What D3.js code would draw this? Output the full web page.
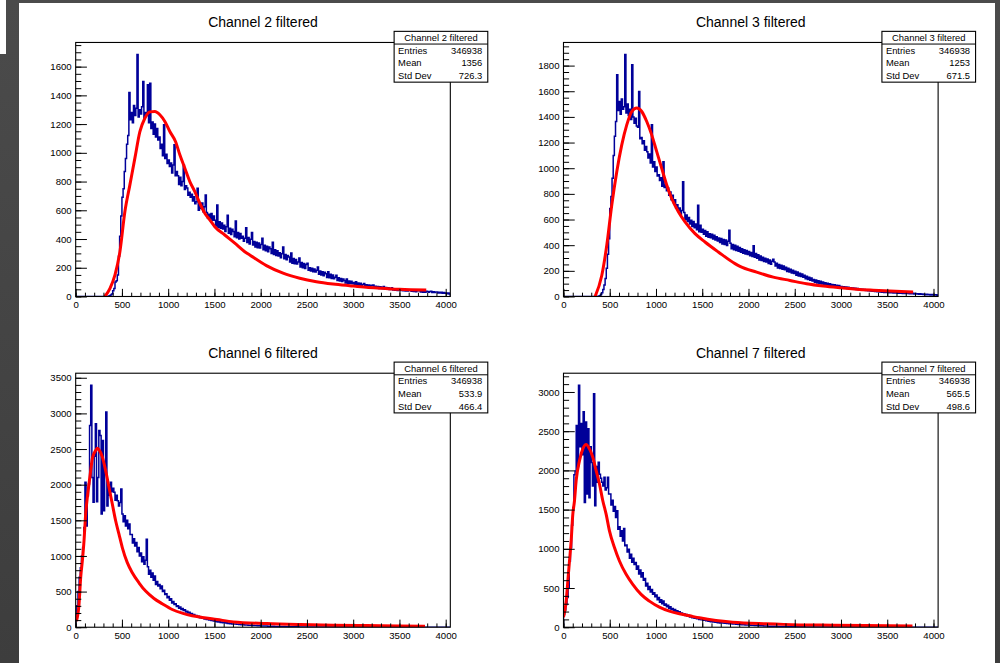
<!DOCTYPE html>
<html><head><meta charset="utf-8">
<script src="https://cdn.jsdelivr.net/npm/d3@7"></script>
<style>
html,body{margin:0;padding:0;background:#444;}
svg{display:block;}
text{font-family:"Liberation Sans",Arial,Helvetica,sans-serif;fill:#000;}
</style></head><body>
<svg id="c" width="1000" height="663"></svg>
<script>
// ---------------- data ----------------
const titles = ["Channel 2 filtered", "Channel 3 filtered", "Channel 6 filtered", "Channel 7 filtered"];
const binWidth = 12.5;
const xMax = 4050;
const xTicks = [0, 500, 1000, 1500, 2000, 2500, 3000, 3500, 4000];

// bin contents, 8 bins per 100 units
const ch2Start = 300;
const ch2Counts = [
  0,0,0,0,2,5,10,18,
  40,55,100,110,150,280,420,560,
  690,750,870,960,1060,1120,1420,1230,
  1280,1210,1330,1260,1310,1684,1250,1300,
  1270,1320,1497,1240,1280,1260,1474,1210,
  1485,1170,1215,1130,1200,1110,1170,1090,
  1110,1030,1060,980,1195,960,990,925,
  950,905,930,860,915,1056,840,870,
  840,780,830,770,800,916,745,770,
  755,705,725,690,712,665,695,645,
  660,754,600,640,612,650,590,625,
  707,585,545,572,540,578,530,560,
  530,490,637,482,520,475,512,470,
  495,452,485,565,440,475,432,468,
  452,415,525,408,445,400,438,405,
  420,385,405,478,375,410,365,398,
  445,358,382,345,378,340,372,338,
  362,405,325,356,318,350,312,345,
  332,300,378,292,325,285,318,282,
  305,270,298,345,262,292,255,285,
  275,240,302,232,265,228,258,226,
  240,268,205,236,200,230,195,222,
  232,182,200,178,196,172,192,170,
  182,205,155,178,150,172,145,168,
  158,132,172,130,154,126,150,124,
  134,148,112,130,108,126,104,122,
  112,94,122,92,108,90,106,88,
  98,82,102,80,94,78,92,76,
  84,90,70,82,68,80,66,78,
  74,80,62,72,58,70,56,68,
  64,54,70,52,62,50,60,48,
  56,60,46,54,44,53,42,51,
  50,41,52,40,48,39,47,38,
  44,46,36,43,34,42,33,41,
  40,42,32,39,30,38,29,37,
  35,29,34,36,28,33,27,32,
  31,25,30,24,29,23,28,22,
  25,19,24,18];

const ch3Start = 300;
const ch3Counts = [
  0,0,0,0,0,0,2,5,
  15,30,55,90,140,220,330,450,
  686,780,921,1100,1250,1364,1729,1450,
  1520,1420,1540,1460,1480,1886,1430,1500,
  1410,1460,1380,1807,1400,1350,1390,1330,
  1320,1599,1230,1240,1190,1215,1140,1170,
  1129,1080,1110,1040,1338,1010,1050,975,
  1010,940,950,905,925,860,1051,850,
  870,825,845,790,815,755,790,730,
  755,690,715,670,690,640,670,894,
  655,600,635,585,615,565,595,545,
  585,535,565,520,712,505,555,500,
  525,485,515,470,505,462,490,458,
  485,448,478,440,465,432,455,420,
  452,410,445,405,440,398,430,517,
  415,372,405,365,400,358,392,352,
  382,345,372,338,365,332,358,328,
  350,318,342,312,395,305,336,298,
  325,285,315,280,305,272,298,268,
  292,258,285,252,275,290,268,238,
  260,222,250,218,244,212,238,208,
  228,195,220,190,212,184,205,180,
  196,165,190,160,182,155,176,150,
  165,138,158,132,150,126,145,120,
  132,110,128,106,122,102,118,98,
  112,92,108,90,104,86,100,84,
  94,78,92,76,88,72,86,70,
  78,66,76,64,74,62,72,60,
  68,58,66,56,64,54,62,52,
  58,50,56,48,54,46,52,44,
  48,42,46,40,45,38,44,36,
  41,34,40,33,39,32,38,31,
  37,30,36,29,35,28,34,27,
  31,26,30,25,29,24,28,23,
  28,23,27,22,26,21,25,20,
  23,19,22,18,21,17,20,16,
  18,14,17,13,16,12,15,11,
  14,11,13,10];

const ch6Start = 0;
const ch6Counts = [
  180,300,500,700,836,1000,1118,1400,
  2033,1422,1845,2010,2831,3394,2100,1752,
  2400,2854,1760,2100,2760,2690,1588,2620,
  1635,2200,3019,1700,2000,1850,2033,1900,
  1950,1892,1780,1850,1776,1700,1750,1939,
  1587,1480,1563,1420,1500,1380,1450,1300,
  1300,1180,1240,1141,1190,1060,1118,1000,
  1040,920,990,883,940,1235,850,742,
  800,700,760,660,718,601,640,580,
  600,540,577,500,520,460,470,413,
  430,380,400,340,360,319,330,290,
  300,265,285,250,262,235,245,215,
  225,200,210,178,192,170,178,155,
  165,145,155,132,142,125,132,115,
  122,108,116,100,106,94,100,86,
  90,78,84,72,78,68,72,62,
  66,58,62,54,58,50,54,46,
  47,46,44,42,41,40,38,36,
  35,34,32,31,30,29,28,27,
  28,26,25,24,23,22,21,20,
  19,18,18,17,16,16,15,15,
  14,14,13,13,12,12,11,11,
  10,10,9,9,9,8,8,8,
  7,7,7,7,6,6,6,6,
  6,5,5,5,5,5,5,4,
  4,4,4,4,4,4,3,3,
  3,3,3,3,3,3,3,3,
  3,3,3,2,2,2,2,2,
  2,2,2,2,2,2,2,2,
  2,2,2,2,2,2,2,2,
  2,2,2,2,1,1,1,1];

const ch7Start = 0;
const ch7Counts = [
  163,220,291,380,500,845,1015,1300,
  1527,1946,1993,2573,2050,3085,2300,2598,
  2200,2747,1592,2616,1700,2530,1650,2300,
  2100,1800,2978,1549,2050,1850,2104,1950,
  1900,1850,1800,1912,1750,1780,1912,1700,
  1700,1560,1620,1480,1540,1400,1485,1250,
  1280,1160,1229,1100,1260,1040,1050,960,
  995,880,930,830,880,800,824,740,
  780,680,730,640,696,600,620,525,
  560,480,520,450,480,420,440,390,
  410,350,380,320,350,300,333,280,
  295,260,280,240,262,225,240,205,
  225,195,210,182,198,170,182,160,
  172,150,162,140,154,130,142,122,
  134,116,124,108,116,100,108,94,
  102,88,96,82,90,76,84,70,
  78,68,74,62,70,58,66,54,
  56,55,53,51,50,48,47,46,
  45,44,42,41,40,38,37,36,
  35,34,33,32,31,30,29,28,
  30,27,26,25,24,23,22,21,
  20,20,19,18,18,17,16,16,
  15,14,14,13,13,12,12,11,
  11,10,10,10,9,9,9,8,
  8,8,7,7,7,7,6,6,
  6,6,6,5,5,5,5,5,
  5,4,4,4,4,4,4,4,
  4,3,3,3,3,3,3,3,
  3,3,3,3,3,3,2,2,
  2,2,2,2,2,2,2,2,
  2,2,2,2,2,2,2,2,
  2,2,1,1,1,1,1,1];

// fitted curves (red)
const ch2FitX = [316,371,425,478,532,586,640,694,748,802,856,910,964,1018,1079,1126,1180,1234,1288,1342,1396,1450,1504,1612,1720,1828,1882,2062,2242,2422,2602,2782,2962,3142,3322,3502,3790];
const ch2FitY = [0,57,150,312,591,777,963,1148,1241,1285,1288,1265,1218,1148,1079,986,893,800,730,649,580,533,486,428,371,312,289,215,162,127,103,87,75,64,57,50,45];
const ch3FitX = [342,414,468,522,576,630,684,738,792,846,900,954,1008,1062,1116,1170,1242,1314,1422,1530,1674,1854,1908,2088,2268,2448,2628,2808,2988,3168,3348,3528,3780];
const ch3FitY = [0,164,399,712,973,1182,1338,1442,1469,1442,1364,1260,1129,999,869,764,660,581,490,425,347,256,235,190,151,125,99,81,68,57,49,42,34];
const ch6FitX = [8,36,54,72,90,108,126,144,162,180,216,234,252,288,324,360,396,432,468,504,558,612,684,756,847,936,1044,1152,1260,1368,1527,1706,2066,2426,2786,3146,3506,3776];
const ch6FitY = [85,319,695,930,1212,1588,1822,2010,2197,2366,2480,2510,2490,2390,2197,1963,1728,1494,1306,1118,906,765,624,507,404,330,249,197,160,137,108,75,52,38,28,23,19,14];
const ch7FitX = [0,29,47,65,83,101,119,137,173,209,245,281,317,353,389,425,461,497,551,605,677,749,839,929,1037,1145,1253,1361,1469,1649,1829,2189,2549,2909,3269,3773];
const ch7FitY = [128,333,589,845,1101,1442,1613,1869,2125,2274,2330,2274,2168,1997,1826,1613,1442,1229,1016,845,675,547,419,333,256,205,171,146,120,86,64,43,30,26,21,17];

const statLabels = ["Entries", "Mean", "Std Dev"];
const ch2Stats = ["346938", "1356", "726.3"];
const ch3Stats = ["346938", "1253", "671.5"];
const ch6Stats = ["346938", "533.9", "466.4"];
const ch7Stats = ["346938", "565.5", "498.6"];

const ch2YTicks = [0,200,400,600,800,1000,1200,1400,1600];
const ch3YTicks = [0,200,400,600,800,1000,1200,1400,1600,1800];
const ch6YTicks = [0,500,1000,1500,2000,2500,3000,3500];
const ch7YTicks = [0,500,1000,1500,2000,2500,3000];

const panels = [
  {title: titles[0], start: ch2Start, counts: ch2Counts, fx: ch2FitX, fy: ch2FitY, stats: ch2Stats, yTicks: ch2YTicks, yMinorStep: 50},
  {title: titles[1], start: ch3Start, counts: ch3Counts, fx: ch3FitX, fy: ch3FitY, stats: ch3Stats, yTicks: ch3YTicks, yMinorStep: 50},
  {title: titles[2], start: ch6Start, counts: ch6Counts, fx: ch6FitX, fy: ch6FitY, stats: ch6Stats, yTicks: ch6YTicks, yMinorStep: 100},
  {title: titles[3], start: ch7Start, counts: ch7Counts, fx: ch7FitX, fy: ch7FitY, stats: ch7Stats, yTicks: ch7YTicks, yMinorStep: 100}
];

// ---------------- layout ----------------
const svg = d3.select("#c");
const defs = svg.append("defs");
const grad = defs.append("linearGradient").attr("id","bg").attr("x1",0).attr("y1",0).attr("x2",0).attr("y2",1);
grad.append("stop").attr("offset","0%").attr("stop-color","#4b4b4b");
grad.append("stop").attr("offset","100%").attr("stop-color","#3d3d3d");
svg.append("rect").attr("width",1000).attr("height",663).attr("fill","url(#bg)");
svg.append("rect").attr("x",0).attr("y",0).attr("width",6).attr("height",54).attr("fill","#ffffff");

const C = {x: 19.1, y: 4.1, w: 975.6, h: 661.5};
svg.append("rect").attr("x",19).attr("y",3).attr("width",976).attr("height",660).attr("fill","#ffffff");

const fontTick = 9.6;

panels.forEach((p, i) => {
  const col = i % 2, row = Math.floor(i / 2);
  const px = C.x + (0.01 + 0.5 * col) * C.w;
  const py = C.y + (0.01 + 0.5 * row) * C.h;
  const pw = 0.48 * C.w, ph = 0.48 * C.h;
  const fx0 = px + 0.1 * pw, fx1 = px + 0.9 * pw;
  const fy0 = py + 0.1 * ph, fy1 = py + 0.9 * ph;

  const g = svg.append("g");
  const x = d3.scaleLinear().domain([0, xMax]).range([fx0, fx1]);
  const yMax = 1.05 * d3.max(p.counts);
  const y = d3.scaleLinear().domain([0, yMax]).range([fy1, fy0]);

  const clipId = "clip" + i;
  defs.append("clipPath").attr("id", clipId).append("rect")
    .attr("x", fx0).attr("y", fy0 - 1).attr("width", fx1 - fx0).attr("height", fy1 - fy0 + 1);

  // histogram step outline
  const pts = [[0, 0], [p.start, 0]];
  p.counts.forEach((c, k) => {
    const lo = p.start + k * binWidth;
    pts.push([lo, c], [lo + binWidth, c]);
  });
  const lastEdge = p.start + p.counts.length * binWidth;
  pts.push([lastEdge, 0], [xMax, 0]);
  const line = d3.line().x(d => x(d[0])).y(d => y(d[1]));
  g.append("path").attr("clip-path", `url(#${clipId})`)
    .attr("d", line(pts)).attr("fill", "none")
    .attr("stroke", "#000099").attr("stroke-width", 1.5).attr("stroke-linejoin", "miter");

  // fit curve
  const fitPts = p.fx.map((v, k) => [v, p.fy[k]]);
  g.append("path").attr("clip-path", `url(#${clipId})`)
    .attr("d", d3.line().x(d => x(d[0])).y(d => y(d[1])).curve(d3.curveMonotoneX)(fitPts))
    .attr("fill", "none").attr("stroke", "#ff0000").attr("stroke-width", 3)
    .attr("stroke-linejoin", "round");

  // axes
  const xLen = (fy1 - fy0) * 0.03, yLen = (fx1 - fx0) * 0.03;
  const xMinor = d3.range(0, xMax + 1, 100);
  const yMinor = d3.range(0, yMax + 0.001, p.yMinorStep);
  const style = sel => {
    sel.select(".domain").remove();
    sel.selectAll("line").attr("stroke", "#000").attr("stroke-width", 1);
    sel.selectAll("text").attr("font-size", fontTick).style("font-family", '"Liberation Sans",Arial,sans-serif').attr("fill", "#000");
  };
  g.append("g").attr("transform", `translate(0,${fy1})`)
    .call(d3.axisBottom(x).tickValues(xMinor).tickSize(-xLen / 2).tickFormat("")).call(style);
  g.append("g").attr("transform", `translate(0,${fy1})`)
    .call(d3.axisBottom(x).tickValues(xTicks).tickSize(-xLen).tickPadding(4.6).tickFormat(d3.format("d"))).call(style);
  g.append("g").attr("transform", `translate(${fx0},0)`)
    .call(d3.axisLeft(y).tickValues(yMinor).tickSize(-yLen / 2).tickFormat("")).call(style);
  g.append("g").attr("transform", `translate(${fx0},0)`)
    .call(d3.axisLeft(y).tickValues(p.yTicks).tickSize(-yLen).tickPadding(4).tickFormat(d3.format("d"))).call(style);

  // frame
  g.append("rect").attr("x", fx0).attr("y", fy0).attr("width", fx1 - fx0).attr("height", fy1 - fy0)
    .attr("fill", "none").attr("stroke", "#000").attr("stroke-width", 1.1);

  // title
  g.append("text").attr("x", px + pw / 2).attr("y", py + 16.4).attr("text-anchor", "middle")
    .attr("font-size", 14).attr("fill", "#111").text(p.title);

  // stats box
  const sx0 = px + 0.78 * pw, sx1 = px + 0.98 * pw;
  const sy0 = py + 0.065 * ph, sy1 = py + 0.225 * ph;
  const rh = (sy1 - sy0) / 4;
  g.append("rect").attr("x", sx0).attr("y", sy0).attr("width", sx1 - sx0).attr("height", sy1 - sy0)
    .attr("fill", "#fff").attr("stroke", "#000").attr("stroke-width", 1.1);
  g.append("line").attr("x1", sx0).attr("x2", sx1).attr("y1", sy0 + rh).attr("y2", sy0 + rh)
    .attr("stroke", "#000").attr("stroke-width", 1);
  g.append("text").attr("x", (sx0 + sx1) / 2).attr("y", sy0 + rh / 2).attr("dy", "0.35em")
    .attr("text-anchor", "middle").attr("font-size", 9.4).text(p.title);
  statLabels.forEach((lab, k) => {
    const cy = sy0 + rh * (k + 1.5);
    g.append("text").attr("x", sx0 + 4).attr("y", cy).attr("dy", "0.35em").attr("font-size", 9.4).text(lab);
    g.append("text").attr("x", sx1 - 5.5).attr("y", cy).attr("dy", "0.35em").attr("text-anchor", "end")
      .attr("font-size", 9.4).text(p.stats[k]);
  });
});
</script>
</body></html>
